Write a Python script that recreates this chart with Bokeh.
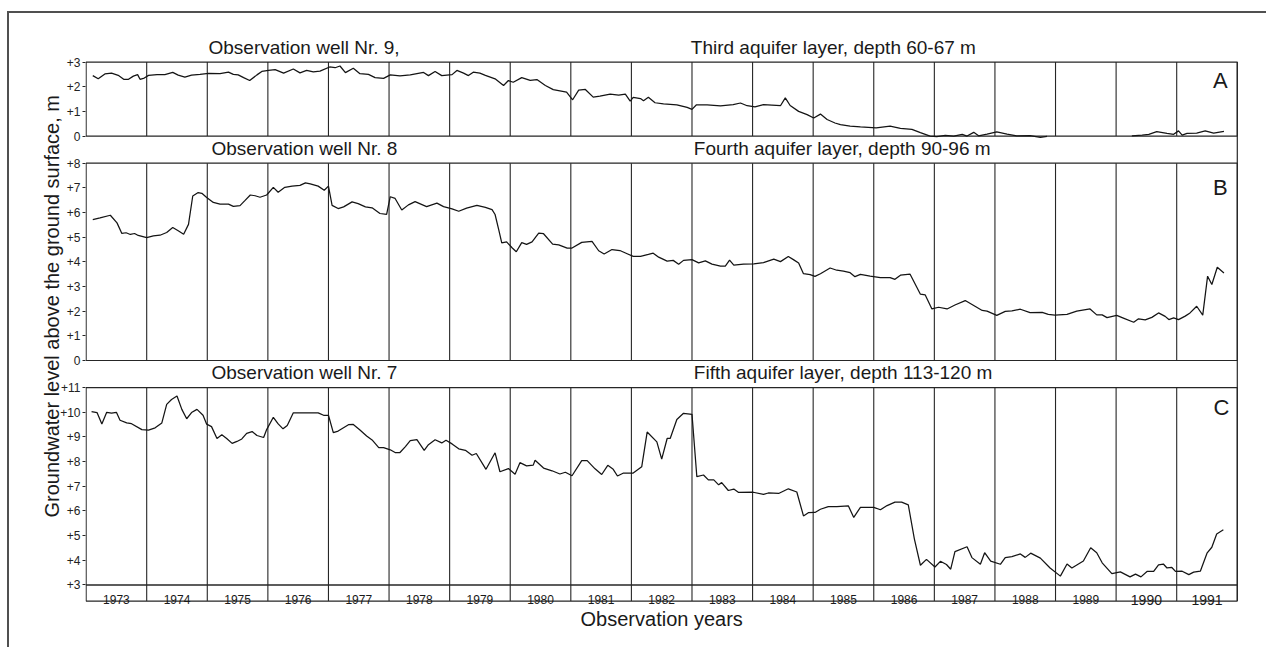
from bokeh.core.properties import value
from bokeh.embed import file_html
from bokeh.models import CustomJSTickFormatter, FixedTicker, Label, LinearAxis, Range1d, Title
from bokeh.plotting import figure
from bokeh.resources import INLINE

nan = float("nan")
FONT = "Liberation Sans"

# ---------------------------------------------------------------------------
# Observation years shown in the bottom strip
YEARS = list(range(1973, 1992))
YEAR_LABELS = [str(y) for y in YEARS]
YEAR_FONT_SIZES = ["12px"] * 17 + ["14px", "14px"]

# Tick values of each panel (metres above the ground surface)
A_TICKS = [0, 1, 2, 3]
B_TICKS = [0, 1, 2, 3, 4, 5, 6, 7, 8]
C_TICKS = [3, 4, 5, 6, 7, 8, 9, 10, 11]

# Panel titles and tags
A_WELL, A_LAYER = "Observation well Nr. 9,", "Third aquifer layer, depth 60-67 m"
B_WELL, B_LAYER = "Observation well Nr. 8", "Fourth aquifer layer, depth 90-96 m"
C_WELL, C_LAYER = "Observation well Nr. 7", "Fifth aquifer layer, depth 113-120 m"

# ---------------------------------------------------------------------------
# Well Nr. 9 (third aquifer layer); no readings late 1988 - early 1990
A_years = [
    1973.11, 1973.20, 1973.31, 1973.42, 1973.53, 1973.62, 1973.70, 1973.78, 1973.85, 1973.89,
    1973.96, 1974.03, 1974.17, 1974.30, 1974.43, 1974.52, 1974.63, 1974.74, 1974.88, 1975.02,
    1975.21, 1975.35, 1975.43, 1975.51, 1975.60, 1975.70, 1975.82, 1975.90, 1976.01, 1976.12,
    1976.26, 1976.42, 1976.53, 1976.64, 1976.75, 1976.86, 1977.02, 1977.11, 1977.19, 1977.28,
    1977.41, 1977.52, 1977.66, 1977.77, 1977.91, 1978.02, 1978.18, 1978.35, 1978.57, 1978.65,
    1978.76, 1978.87, 1979.04, 1979.12, 1979.23, 1979.31, 1979.39, 1979.50, 1979.59, 1979.75,
    1979.89, 1979.97, 1980.05, 1980.19, 1980.33, 1980.44, 1980.58, 1980.71, 1980.93, 1981.03,
    1981.13, 1981.24, 1981.37, 1981.48, 1981.65, 1981.79, 1981.90, 1981.98, 1982.03, 1982.15,
    1982.20, 1982.28, 1982.39, 1982.53, 1982.75, 1982.92, 1983.00, 1983.07, 1983.25, 1983.47,
    1983.68, 1983.80, 1983.91, 1984.04, 1984.18, 1984.46, 1984.54, 1984.62, 1984.76, 1984.90,
    1985.01, 1985.12, 1985.23, 1985.36, 1985.45, 1985.61, 1985.78, 1986.04, 1986.27, 1986.44,
    1986.63, 1986.77, 1986.93, 1987.04, 1987.18, 1987.32, 1987.46, 1987.54, 1987.65, 1987.73,
    1987.87, 1988.03, 1988.20, 1988.36, 1988.58, 1988.75, 1988.86,
    1989.50,
    1990.26, 1990.43, 1990.54, 1990.67, 1990.84, 1990.95, 1991.03, 1991.09, 1991.17, 1991.33,
    1991.47, 1991.61, 1991.78,
]
A_levels = [
    2.45, 2.32, 2.52, 2.55, 2.46, 2.30, 2.30, 2.43, 2.49, 2.30,
    2.35, 2.46, 2.49, 2.49, 2.58, 2.47, 2.39, 2.47, 2.50, 2.54,
    2.53, 2.59, 2.50, 2.48, 2.37, 2.25, 2.48, 2.62, 2.66, 2.69,
    2.55, 2.72, 2.56, 2.66, 2.60, 2.63, 2.80, 2.77, 2.84, 2.57,
    2.75, 2.53, 2.50, 2.37, 2.34, 2.48, 2.44, 2.48, 2.58, 2.45,
    2.62, 2.45, 2.49, 2.66, 2.55, 2.45, 2.59, 2.55, 2.46, 2.32,
    2.05, 2.25, 2.18, 2.37, 2.26, 2.29, 2.05, 1.88, 1.78, 1.47,
    1.86, 1.89, 1.58, 1.62, 1.70, 1.66, 1.70, 1.42, 1.57, 1.52,
    1.43, 1.57, 1.35, 1.30, 1.26, 1.16, 1.08, 1.26, 1.26, 1.22,
    1.27, 1.34, 1.23, 1.18, 1.27, 1.23, 1.55, 1.24, 1.00, 0.87,
    0.73, 0.89, 0.67, 0.53, 0.46, 0.40, 0.37, 0.33, 0.40, 0.31,
    0.27, 0.14, 0.00, -0.02, 0.03, 0.00, 0.07, 0.00, 0.15, 0.01,
    0.08, 0.17, 0.08, 0.01, 0.02, -0.05, -0.01,
    nan,
    0.01, 0.04, 0.07, 0.18, 0.11, 0.07, 0.21, 0.04, 0.11, 0.12,
    0.21, 0.12, 0.19,
]

# Well Nr. 8 (fourth aquifer layer)
B_years = [
    1973.11, 1973.23, 1973.40, 1973.51, 1973.59, 1973.66, 1973.73, 1973.80, 1973.86, 1974.00,
    1974.11, 1974.22, 1974.33, 1974.43, 1974.52, 1974.61, 1974.69, 1974.76, 1974.85, 1974.91,
    1974.99, 1975.10, 1975.21, 1975.35, 1975.43, 1975.54, 1975.62, 1975.71, 1975.79, 1975.87,
    1975.98, 1976.09, 1976.17, 1976.28, 1976.40, 1976.53, 1976.62, 1976.70, 1976.83, 1976.93,
    1977.00, 1977.06, 1977.16, 1977.25, 1977.39, 1977.49, 1977.61, 1977.72, 1977.85, 1977.96,
    1978.02, 1978.10, 1978.21, 1978.32, 1978.43, 1978.62, 1978.79, 1978.90, 1979.04, 1979.15,
    1979.28, 1979.45, 1979.59, 1979.70, 1979.75, 1979.81, 1979.86, 1979.94, 1980.03, 1980.10,
    1980.19, 1980.27, 1980.36, 1980.47, 1980.55, 1980.70, 1980.80, 1980.94, 1981.02, 1981.18,
    1981.35, 1981.46, 1981.55, 1981.68, 1981.81, 1981.93, 1982.03, 1982.15, 1982.28, 1982.36,
    1982.45, 1982.59, 1982.69, 1982.78, 1982.86, 1983.00, 1983.11, 1983.22, 1983.33, 1983.47,
    1983.55, 1983.62, 1983.69, 1983.85, 1984.02, 1984.18, 1984.35, 1984.46, 1984.59, 1984.68,
    1984.76, 1984.84, 1984.95, 1985.03, 1985.12, 1985.28, 1985.39, 1985.50, 1985.61, 1985.69,
    1985.78, 1985.94, 1986.11, 1986.27, 1986.35, 1986.44, 1986.60, 1986.77, 1986.85, 1986.96,
    1987.07, 1987.21, 1987.34, 1987.51, 1987.65, 1987.79, 1987.87, 1988.03, 1988.17, 1988.28,
    1988.42, 1988.58, 1988.78, 1988.88, 1988.99, 1989.19, 1989.35, 1989.57, 1989.68, 1989.77,
    1989.85, 1990.01, 1990.12, 1990.29, 1990.37, 1990.48, 1990.59, 1990.70, 1990.81, 1990.87,
    1990.95, 1991.03, 1991.14, 1991.22, 1991.33, 1991.43, 1991.51, 1991.58, 1991.67, 1991.78,
]
B_levels = [
    5.71, 5.78, 5.89, 5.58, 5.15, 5.18, 5.11, 5.15, 5.07, 4.98,
    5.05, 5.08, 5.19, 5.39, 5.26, 5.12, 5.52, 6.67, 6.81, 6.78,
    6.61, 6.41, 6.34, 6.34, 6.25, 6.28, 6.48, 6.71, 6.68, 6.62,
    6.71, 7.02, 6.82, 7.02, 7.07, 7.10, 7.20, 7.16, 7.07, 6.90,
    7.07, 6.29, 6.16, 6.23, 6.43, 6.36, 6.23, 6.19, 5.96, 5.92,
    6.64, 6.57, 6.10, 6.31, 6.44, 6.24, 6.38, 6.24, 6.15, 6.05,
    6.18, 6.29, 6.21, 6.12, 5.92, 5.31, 4.77, 4.81, 4.57, 4.41,
    4.78, 4.71, 4.81, 5.16, 5.14, 4.72, 4.69, 4.56, 4.56, 4.79,
    4.83, 4.45, 4.32, 4.50, 4.46, 4.33, 4.22, 4.22, 4.30, 4.35,
    4.19, 4.03, 4.06, 3.90, 4.06, 4.09, 3.96, 4.04, 3.91, 3.83,
    3.83, 4.07, 3.87, 3.91, 3.92, 3.97, 4.11, 4.01, 4.22, 4.08,
    3.95, 3.52, 3.48, 3.41, 3.52, 3.75, 3.66, 3.62, 3.56, 3.40,
    3.49, 3.42, 3.36, 3.36, 3.29, 3.46, 3.50, 2.69, 2.66, 2.09,
    2.16, 2.09, 2.25, 2.43, 2.23, 2.03, 2.00, 1.83, 1.99, 2.01,
    2.08, 1.94, 1.95, 1.87, 1.84, 1.87, 2.00, 2.09, 1.85, 1.85,
    1.74, 1.83, 1.72, 1.55, 1.69, 1.65, 1.75, 1.93, 1.79, 1.66,
    1.73, 1.66, 1.80, 1.93, 2.20, 1.84, 3.42, 3.08, 3.78, 3.55,
]

# Well Nr. 7 (fifth aquifer layer)
C_years = [
    1973.09, 1973.18, 1973.26, 1973.34, 1973.42, 1973.50, 1973.56, 1973.67, 1973.75, 1973.92,
    1974.03, 1974.14, 1974.25, 1974.33, 1974.41, 1974.50, 1974.58, 1974.66, 1974.74, 1974.83,
    1974.93, 1974.99, 1975.07, 1975.16, 1975.24, 1975.32, 1975.41, 1975.49, 1975.57, 1975.65,
    1975.74, 1975.82, 1975.93, 1975.98, 1976.09, 1976.17, 1976.25, 1976.32, 1976.42, 1976.59,
    1976.83, 1976.92, 1977.00, 1977.08, 1977.16, 1977.33, 1977.41, 1977.52, 1977.63, 1977.72,
    1977.83, 1977.91, 1978.02, 1978.10, 1978.18, 1978.27, 1978.35, 1978.46, 1978.58, 1978.65,
    1978.76, 1978.87, 1978.94, 1979.04, 1979.15, 1979.26, 1979.37, 1979.44, 1979.60, 1979.75,
    1979.83, 1979.97, 1980.08, 1980.16, 1980.27, 1980.38, 1980.41, 1980.55, 1980.69, 1980.82,
    1980.91, 1981.02, 1981.18, 1981.27, 1981.40, 1981.51, 1981.61, 1981.70, 1981.77, 1981.87,
    1982.03, 1982.17, 1982.26, 1982.42, 1982.50, 1982.59, 1982.64, 1982.75, 1982.86, 1983.00,
    1983.08, 1983.19, 1983.27, 1983.36, 1983.44, 1983.49, 1983.60, 1983.69, 1983.77, 1984.01,
    1984.18, 1984.26, 1984.43, 1984.59, 1984.73, 1984.84, 1984.92, 1985.03, 1985.12, 1985.25,
    1985.39, 1985.58, 1985.67, 1985.78, 1986.00, 1986.11, 1986.22, 1986.35, 1986.46, 1986.57,
    1986.67, 1986.77, 1986.87, 1987.01, 1987.10, 1987.20, 1987.27, 1987.34, 1987.54, 1987.62,
    1987.76, 1987.83, 1987.93, 1988.09, 1988.17, 1988.28, 1988.42, 1988.50, 1988.59, 1988.75,
    1988.91, 1989.08, 1989.19, 1989.27, 1989.46, 1989.58, 1989.68, 1989.77, 1989.93, 1990.07,
    1990.23, 1990.32, 1990.41, 1990.51, 1990.62, 1990.70, 1990.78, 1990.84, 1990.92, 1990.98,
    1991.09, 1991.20, 1991.28, 1991.39, 1991.50, 1991.58, 1991.66, 1991.77,
]
C_levels = [
    10.03, 9.99, 9.53, 10.00, 9.97, 10.00, 9.68, 9.57, 9.54, 9.30,
    9.28, 9.37, 9.57, 10.32, 10.52, 10.66, 10.12, 9.74, 9.99, 10.12,
    9.88, 9.52, 9.42, 8.94, 9.09, 8.94, 8.74, 8.82, 8.92, 9.15,
    9.22, 9.06, 8.98, 9.30, 9.80, 9.53, 9.33, 9.47, 9.98, 9.98,
    9.98, 9.88, 9.88, 9.18, 9.24, 9.50, 9.51, 9.28, 9.04, 8.88,
    8.57, 8.57, 8.48, 8.37, 8.37, 8.61, 8.85, 8.89, 8.46, 8.69,
    8.89, 8.76, 8.87, 8.72, 8.52, 8.46, 8.26, 8.33, 7.69, 8.36,
    7.59, 7.72, 7.49, 7.96, 7.83, 7.86, 8.06, 7.74, 7.63, 7.50,
    7.57, 7.43, 8.04, 8.04, 7.71, 7.48, 7.85, 7.69, 7.42, 7.54,
    7.54, 7.79, 9.20, 8.80, 8.10, 8.94, 8.94, 9.71, 9.96, 9.92,
    7.39, 7.46, 7.26, 7.26, 7.06, 7.15, 6.83, 6.89, 6.75, 6.76,
    6.67, 6.73, 6.71, 6.90, 6.77, 5.80, 5.93, 5.94, 6.07, 6.18,
    6.18, 6.21, 5.74, 6.15, 6.15, 6.05, 6.22, 6.36, 6.36, 6.25,
    4.87, 3.80, 4.04, 3.73, 3.96, 3.83, 3.64, 4.35, 4.55, 4.11,
    3.84, 4.31, 3.97, 3.84, 4.11, 4.15, 4.26, 4.12, 4.29, 4.09,
    3.69, 3.36, 3.85, 3.69, 3.97, 4.51, 4.31, 3.90, 3.46, 3.53,
    3.33, 3.44, 3.33, 3.55, 3.55, 3.82, 3.85, 3.69, 3.71, 3.55,
    3.56, 3.42, 3.52, 3.56, 4.29, 4.53, 5.07, 5.24,
]

assert len(A_years) == len(A_levels)
assert len(B_years) == len(B_levels)
assert len(C_years) == len(C_levels)

# ---------------------------------------------------------------------------
# The three panels share one metre scale and are stacked on a common axis:
# each panel's own range is the common range shifted by its offset.
# The plotting area also holds the title bands and the x-axis title.
OFF_A, OFF_B = 21.2, 12.1
Y_LO, Y_HI = 0.75, 25.56
STRIP_BOTTOM = 2.35  # lower edge of the year strip under panel C
FIRST, LAST = YEARS[0], YEARS[-1] + 1

INK = "#262626"
LINE = "#141414"
TEXT = "#1a1a1a"

p = figure(
    width=1259, height=636,
    x_range=Range1d(1972.99, 1992.02), y_range=Range1d(Y_LO, Y_HI),
    x_axis_location=None, y_axis_location=None,
    toolbar_location=None, output_backend="svg",
    min_border_left=76, min_border_right=30, min_border_top=15, min_border_bottom=9,
    outline_line_color=None, background_fill_color="white", border_fill_color="white",
    margin=(11, 0, 0, 7),
    styles={"border-top": "2px solid #505050", "border-left": "2px solid #505050"},
)
for g in p.grid:
    g.visible = False

p.extra_y_ranges = {
    "A": Range1d(Y_LO - OFF_A, Y_HI - OFF_A),
    "B": Range1d(Y_LO - OFF_B, Y_HI - OFF_B),
}

panels = [
    ("A", 0, 3, None),
    ("B", 0, 8, None),
    ("default", 3, 11, STRIP_BOTTOM),
]

inner = YEARS[1:]
for rname, lo, hi, seg_lo in panels:
    p.quad(left=[FIRST], right=[LAST], bottom=[lo], top=[hi], y_range_name=rname,
           fill_color=None, line_color=INK, line_width=1.2)
    y0 = lo if seg_lo is None else seg_lo
    p.segment(x0=inner, x1=inner, y0=[y0] * len(inner), y1=[hi] * len(inner),
              y_range_name=rname, line_color=INK, line_width=1.1)

# year strip and the right-hand frame line running through the title bands
p.quad(left=[FIRST], right=[LAST], bottom=[STRIP_BOTTOM], top=[3],
       fill_color=None, line_color=INK, line_width=1.2)
p.segment(x0=[LAST], x1=[LAST], y0=[STRIP_BOTTOM], y1=[OFF_A + 3],
          line_color=INK, line_width=1.2)

p.text(x=[y + 0.5 for y in YEARS], y=[STRIP_BOTTOM + 0.06] * len(YEARS), text=YEAR_LABELS,
       text_font=value(FONT), text_font_size=YEAR_FONT_SIZES, text_color=TEXT,
       text_align="center", text_baseline="alphabetic")

# groundwater level curves
p.line(A_years, A_levels, y_range_name="A", line_color=LINE, line_width=1.25)
p.line(B_years, B_levels, y_range_name="B", line_color=LINE, line_width=1.25)
p.line(C_years, C_levels, line_color=LINE, line_width=1.25)

# shared left axis carrying the tick marks of all three panels
ticks = [v + OFF_A for v in A_TICKS] + [v + OFF_B for v in B_TICKS] + list(C_TICKS)
fmt = CustomJSTickFormatter(code=f"""
    const off = tick > {OFF_A - 0.5} ? {OFF_A} : (tick > {OFF_B - 0.5} ? {OFF_B} : 0.0);
    const v = Math.round(tick - off);
    return v === 0 ? "0" : "+" + v;
""")
yaxis = LinearAxis(ticker=FixedTicker(ticks=ticks), formatter=fmt,
                   axis_line_color=None, major_tick_in=0, major_tick_out=3,
                   major_tick_line_color=INK, minor_tick_line_color=None,
                   major_label_standoff=2, major_label_text_font=FONT,
                   major_label_text_font_size="12px", major_label_text_color="#222222")
p.add_layout(yaxis, "left")

# shared y title; it starts 123 px above the bottom of the plotting area
p.add_layout(Title(text="Groundwater level above the ground surface, m", align="left",
                   offset=123, standoff=-10, text_font=FONT, text_font_size="20px",
                   text_font_style="normal", text_color=TEXT), "left")


def label(x, y, text, size, rname="default", **kw):
    p.add_layout(Label(x=x, y=y, text=text, y_range_name=rname, text_font=FONT,
                       text_font_size=size, text_color=TEXT, **kw))


# panel titles
label(1975.02, 3.15, A_WELL, "19px", "A")
label(1982.98, 3.15, A_LAYER, "19px", "A")
label(1975.07, 8.18, B_WELL, "19px", "B")
label(1983.03, 8.18, B_LAYER, "19px", "B")
label(1975.07, 11.20, C_WELL, "19px")
label(1983.03, 11.20, C_LAYER, "19px")

# panel tags
label(1991.72, 2.25, "A", "22px", "A", text_align="center", text_baseline="middle")
label(1991.72, 7.01, "B", "22px", "B", text_align="center", text_baseline="middle")
label(1991.74, 10.19, "C", "22px", text_align="center", text_baseline="middle")

# x-axis title
label(1982.5, 1.16, "Observation years", "20px", text_align="center")

open("out.html", "w").write(file_html(p, INLINE))
